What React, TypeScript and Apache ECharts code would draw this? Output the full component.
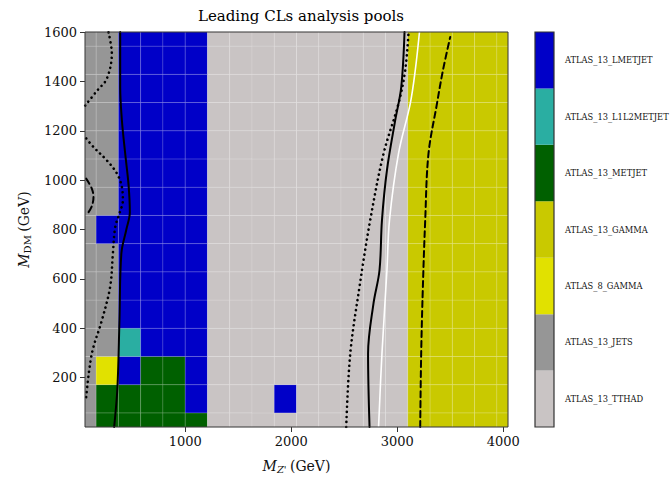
import React, { useEffect, useRef } from "react";
import * as echarts from "echarts";

// ---- Data ----
const CATEGORIES = [
  "ATLAS_13_TTHAD",
  "ATLAS_13_JETS",
  "ATLAS_8_GAMMA",
  "ATLAS_13_GAMMA",
  "ATLAS_13_METJET",
  "ATLAS_13_L1L2METJET",
  "ATLAS_13_LMETJET",
];
const CAT_COLORS = ["#c9c4c4", "#969696", "#e1e100", "#c9c900", "#006000", "#2aaea2", "#0000c8"];
const CODE: Record<string, number> = { T: 0, J: 1, E: 2, G: 3, M: 4, C: 5, L: 6 };

const X_CENTERS = [55, 265, 475, 685, 895, 1105, 1315, 1525, 1735, 1945, 2155, 2365, 2575, 2785, 2995, 3205, 3415, 3625, 3835, 4045];
const Y_CENTERS = [0, 114.3, 228.6, 342.9, 457.1, 571.4, 685.7, 800, 914.3, 1028.6, 1142.9, 1257.1, 1371.4, 1485.7, 1600];

// rows from bottom (y = 0) to top (y = 1600); one letter per x column
const ROWS = [
  "JMMMMMTTTTTTTTTGGGGG",
  "JMMMMLTTTLTTTTTGGGGG",
  "JELMMLTTTTTTTTTGGGGG",
  "JJCLLLTTTTTTTTTGGGGG",
  "JJLLLLTTTTTTTTTGGGGG",
  "JJLLLLTTTTTTTTTGGGGG",
  "JJLLLLTTTTTTTTTGGGGG",
  "JLLLLLTTTTTTTTTGGGGG",
  "JJLLLLTTTTTTTTTGGGGG",
  "JJLLLLTTTTTTTTTGGGGG",
  "JJLLLLTTTTTTTTTGGGGG",
  "JJLLLLTTTTTTTTTGGGGG",
  "JJLLLLTTTTTTTTTGGGGG",
  "JJLLLLTTTTTTTTTGGGGG",
  "JJLLLLTTTTTTTTTGGGGG",
];

const X_TICKS = [1000, 2000, 3000, 4000];
const Y_TICKS = [200, 400, 600, 800, 1000, 1200, 1400, 1600];

// contours [x, y]
const SOLID_LEFT = [[330, 0], [361, 161], [380, 432], [398, 703], [445, 800], [478, 870], [466, 980], [434, 1108], [403, 1242], [387, 1377], [387, 1600]];
const DOTTED_LEFT = [[66, 121], [120, 298], [214, 432], [292, 567], [318, 703], [340, 810], [380, 865], [412, 918], [403, 972], [356, 1027], [261, 1080], [135, 1134], [57, 1174]];
const DOTTED_LEFT_TOP = [[57, 1302], [170, 1363], [261, 1411], [308, 1512], [276, 1600]];
const DASHED_LEFT = [[66, 1006], [120, 965], [135, 931], [120, 895], [88, 870]];
const DOTTED_RIGHT = [[2519, 0], [2557, 297], [2644, 567], [2745, 837], [2871, 1107], [3012, 1310], [3075, 1444], [3107, 1600]];
const SOLID_RIGHT = [[2739, 0], [2725, 297], [2776, 500], [2833, 635], [2856, 837], [2903, 1040], [2981, 1242], [3038, 1377], [3069, 1600]];
const WHITE_RIGHT = [[2824, 0], [2856, 297], [2903, 635], [2927, 837], [3012, 1107], [3123, 1310], [3170, 1444], [3210, 1600]];
const DASHED_RIGHT = [[3217, 0], [3226, 297], [3242, 567], [3264, 837], [3295, 1107], [3375, 1310], [3431, 1444], [3500, 1580]];

const SERIF = "DejaVu Serif";

function edges(c: number[]) {
  const e: number[] = [c[0]];
  for (let i = 0; i < c.length - 1; i++) e.push((c[i] + c[i + 1]) / 2);
  e.push(c[c.length - 1]);
  return e;
}

export default function App() {
  const ref = useRef<HTMLDivElement>(null);
  useEffect(() => {
    if (!ref.current) return;
    const chart = echarts.init(ref.current, null, { renderer: "svg" });
    const xe = edges(X_CENTERS);
    const ye = edges(Y_CENTERS);
    const cells: number[][] = [];
    ROWS.forEach((row, j) => {
      row.split("").forEach((ch, i) => {
        cells.push([xe[i], xe[i + 1], ye[j], ye[j + 1], CODE[ch]]);
      });
    });
    const xmin = X_CENTERS[0];
    const xmax = X_CENTERS[X_CENTERS.length - 1];

    const lineSeries = (data: number[][], color: string, width: number, type: any) => ({
      type: "line",
      xAxisIndex: 0,
      yAxisIndex: 0,
      data,
      smooth: 0.35,
      showSymbol: false,
      symbol: "none",
      silent: true,
      lineStyle: { color, width, type, cap: "round" },
      z: 5,
    });

    const axisNameRich = (subItalic: boolean) => ({
      i: { fontFamily: SERIF, fontStyle: "italic", fontSize: 14, color: "#111", lineHeight: 17, verticalAlign: "middle" },
      s: { fontFamily: SERIF, fontStyle: subItalic ? "italic" : "normal", fontSize: 10, color: "#111", lineHeight: 11, verticalAlign: "bottom" },
      n: { fontFamily: SERIF, fontSize: 14, color: "#111", lineHeight: 17, verticalAlign: "middle" },
    });

    chart.setOption({
      animation: false,
      title: {
        text: "Leading CLs analysis pools",
        left: 296,
        textAlign: "center",
        top: 3,
        textStyle: { fontFamily: SERIF, fontSize: 15, fontWeight: "normal", color: "#000" },
      },
      grid: [
        { left: 85, right: 163, top: 32, bottom: 52, containLabel: false, outerBoundsMode: "none", show: true, borderColor: "#333", borderWidth: 1, backgroundColor: "transparent", z: 10 },
        { left: 535, width: 19, top: 32, bottom: 52, containLabel: false, outerBoundsMode: "none", show: true, borderColor: "#333", borderWidth: 1.2, backgroundColor: "transparent", z: 10 },
      ],
      xAxis: [
        {
          type: "value",
          gridIndex: 0,
          min: xmin,
          max: xmax,
          splitLine: { show: false },
          axisLine: { show: false },
          axisTick: { show: true, customValues: X_TICKS, length: 5, lineStyle: { color: "#333" } },
          axisLabel: { customValues: X_TICKS, fontFamily: SERIF, fontSize: 13, color: "#111", margin: 8, formatter: (v: number) => String(v) },
          name: "{i|M}{s|Z'} {n|(GeV)}",
          nameLocation: "middle",
          nameGap: 30,
          nameTextStyle: { rich: axisNameRich(true) },
        },
        { type: "value", gridIndex: 1, min: 0, max: 1, show: false },
      ],
      yAxis: [
        {
          type: "value",
          gridIndex: 0,
          min: 0,
          max: 1600,
          interval: 200,
          splitLine: { show: false },
          axisLine: { show: false },
          axisTick: { show: true, customValues: Y_TICKS, length: 5, lineStyle: { color: "#333" } },
          axisLabel: {
            customValues: Y_TICKS,
            fontFamily: SERIF,
            fontSize: 13,
            color: "#111",
            margin: 8,
            formatter: (v: number) => String(v),
          },
          name: "{i|M}{s|DM} {n|(GeV)}",
          nameLocation: "middle",
          nameGap: 53,
          nameTextStyle: { rich: axisNameRich(false) },
        },
        {
          type: "category",
          gridIndex: 1,
          position: "right",
          data: CATEGORIES,
          axisLine: { show: false },
          axisTick: { show: true, alignWithLabel: true, length: 4, lineStyle: { color: "#333" } },
          axisLabel: { fontFamily: SERIF, fontSize: 8.3, color: "#111", margin: 11 },
        },
      ],
      series: [
        {
          type: "custom",
          xAxisIndex: 0,
          yAxisIndex: 0,
          silent: true,
          data: cells,
          renderItem: (params: any, api: any) => {
            const p0 = api.coord([api.value(0), api.value(3)]);
            const p1 = api.coord([api.value(1), api.value(2)]);
            return {
              type: "rect",
              shape: { x: p0[0], y: p0[1], width: p1[0] - p0[0], height: p1[1] - p0[1] },
              style: { fill: CAT_COLORS[api.value(4)], stroke: "rgba(255,255,255,0.13)", lineWidth: 1 },
            };
          },
          z: 1,
        },
        lineSeries(SOLID_LEFT, "#000", 2, "solid"),
        lineSeries(DOTTED_LEFT, "#000", 2.6, [0.1, 5]),
        lineSeries(DOTTED_LEFT_TOP, "#000", 2.6, [0.1, 5]),
        lineSeries(DASHED_LEFT, "#000", 2, [6, 4]),
        lineSeries(DOTTED_RIGHT, "#000", 2.6, [0.1, 5]),
        lineSeries(SOLID_RIGHT, "#000", 2, "solid"),
        lineSeries(WHITE_RIGHT, "#fff", 1.6, "solid"),
        lineSeries(DASHED_RIGHT, "#000", 2, [6, 4]),
        {
          type: "bar",
          xAxisIndex: 1,
          yAxisIndex: 1,
          barWidth: "100%",
          silent: true,
          data: CATEGORIES.map((_, k) => ({ value: 1, itemStyle: { color: CAT_COLORS[k] } })),
        },
      ],
    });
    return () => chart.dispose();
  }, []);
  return (
    <div
      ref={ref}
      style={{ position: "absolute", left: 0, top: 0, width: 671, height: 479, background: "#fff" }}
    />
  );
}
